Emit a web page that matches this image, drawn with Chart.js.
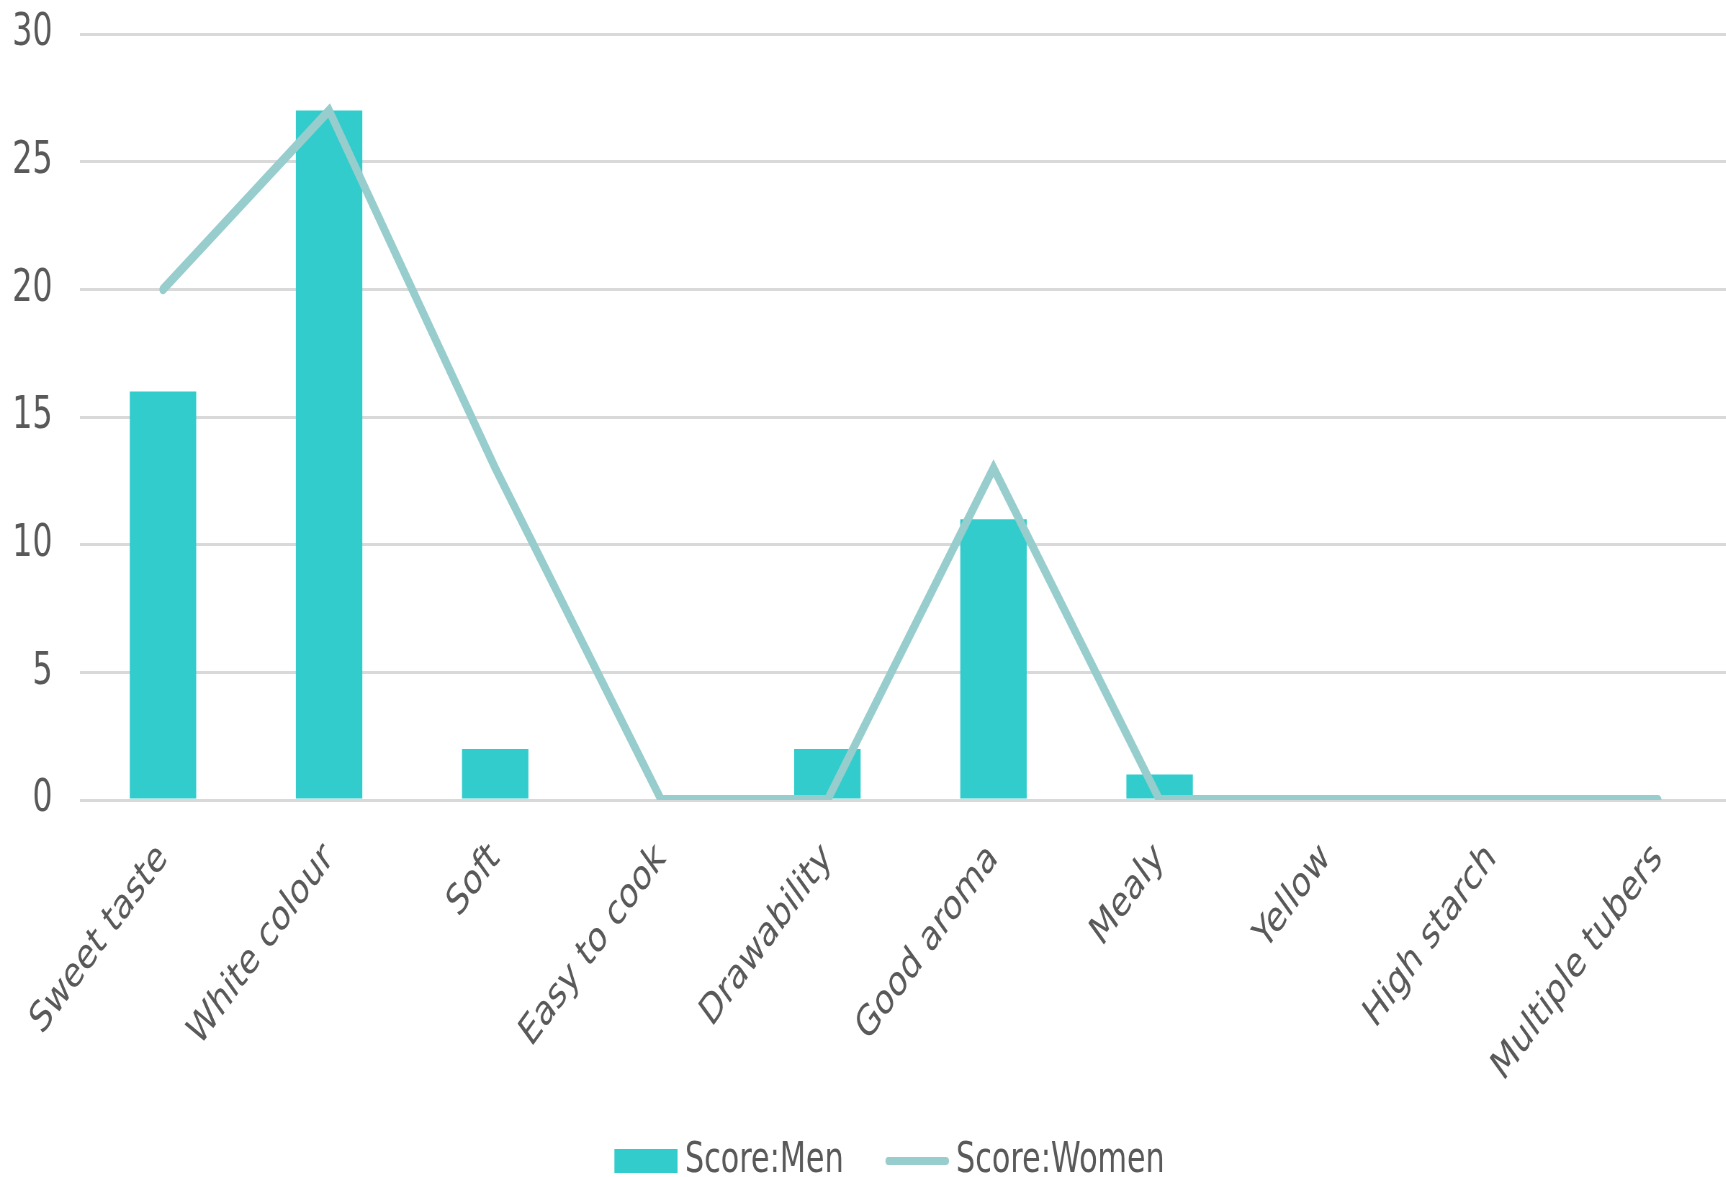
<!DOCTYPE html>
<html>
<head>
<meta charset="utf-8">
<script src="https://cdn.jsdelivr.net/npm/chart.js@4/dist/chart.umd.min.js"></script>
<style>
  html, body { margin: 0; padding: 0; overflow: hidden; background: #ffffff; }
  #wrap {
    transform: scaleX(0.72);
    transform-origin: 0 0;
  }
  canvas { display: block; }
</style>
</head>
<body>
<div id="wrap"><canvas id="chart"></canvas></div>
<script>
// Preferred traits of sweet potato varieties, scored by men and women
const categories = ['Sweet taste', 'White colour', 'Soft', 'Easy to cook', 'Drawability',
                    'Good aroma', 'Mealy', 'Yellow', 'High starch', 'Multiple tubers'];
const scoreMen   = [16, 27, 2, 0, 2, 11, 1, 0, 0, 0];
const scoreWomen = [20, 27, 13, 0, 0, 13, 0, 0, 0, 0];
const yTicks = [0, 5, 10, 15, 20, 25, 30];

const BAR_COLOR = '#33CCCC';
const LINE_COLOR = '#97CDCC';
const TEXT_COLOR = '#595959';
const GRID_COLOR = '#D9D9D9';
const FONT = 'DejaVu Sans';

// drawing frame (the page squeezes it horizontally by 0.72)
const CANVAS_W = 2418;
const PLOT_TOP = 34, PLOT_BOTTOM = 800;
const Y_AXIS_W = 111;
const LEGEND_FONT = 42, LEGEND_GAP = 47, LEGEND_SHIFT = 21;
const LEGEND_H = LEGEND_FONT + LEGEND_GAP + 10;
const LEGEND_MID = 1161;
const CANVAS_H = LEGEND_MID - LEGEND_FONT / 2 - LEGEND_GAP + LEGEND_H;

// legend swatches: a filled block for the bars, a rounded stroke for the line
const ICON_SLOT = 88, ICON_W = 110, ICON_H = 30;
function makeIcon(kind) {
  const c = document.createElement('canvas');
  c.width = ICON_W;
  c.height = ICON_H;
  const g = c.getContext('2d');
  const x0 = ICON_W - ICON_SLOT;
  if (kind === 'bar') {
    g.fillStyle = BAR_COLOR;
    g.fillRect(x0, ICON_H / 2 - 12, ICON_SLOT, 24);
  } else {
    g.strokeStyle = LINE_COLOR;
    g.lineWidth = 8;
    g.lineCap = 'round';
    g.beginPath();
    g.moveTo(x0 + 4, ICON_H / 2);
    g.lineTo(ICON_W - 4, ICON_H / 2);
    g.stroke();
  }
  return c;
}
const icons = [makeIcon('bar'), makeIcon('line')];

// nudge the legend block to the right after layout
const legendShift = {
  id: 'legendShift',
  afterLayout(chart) {
    if (chart.legend) {
      chart.legend.left += LEGEND_SHIFT;
      chart.legend.right += LEGEND_SHIFT;
    }
  }
};

const canvas = document.getElementById('chart');
canvas.width = CANVAS_W;
canvas.height = CANVAS_H;
canvas.style.width = CANVAS_W + 'px';
canvas.style.height = CANVAS_H + 'px';

new Chart(canvas, {
  data: {
    labels: categories,
    datasets: [
      {
        type: 'bar',
        label: 'Score:Men',
        data: scoreMen,
        backgroundColor: BAR_COLOR,
        borderWidth: 0,
        barPercentage: 0.4,
        categoryPercentage: 1.0,
        order: 1
      },
      {
        type: 'line',
        label: 'Score:Women',
        data: scoreWomen,
        borderColor: LINE_COLOR,
        backgroundColor: LINE_COLOR,
        borderWidth: 10,
        borderCapStyle: 'round',
        borderJoinStyle: 'miter',
        tension: 0,
        pointRadius: 0,
        pointHoverRadius: 0,
        fill: false,
        order: 0
      }
    ]
  },
  plugins: [legendShift],
  options: {
    responsive: false,
    animation: false,
    devicePixelRatio: 1,
    layout: { padding: { left: 0, right: 0, top: PLOT_TOP, bottom: 0 } },
    plugins: {
      tooltip: { enabled: false },
      legend: {
        position: 'bottom',
        labels: {
          font: { family: FONT, size: LEGEND_FONT, lineHeight: 1 },
          color: TEXT_COLOR,
          padding: LEGEND_GAP,
          usePointStyle: true,
          pointStyleWidth: ICON_SLOT,
          sort: (a, b) => a.datasetIndex - b.datasetIndex,
          generateLabels(chart) {
            const items = Chart.defaults.plugins.legend.labels.generateLabels(chart);
            items.forEach(item => {
              item.pointStyle = icons[item.datasetIndex];
              item.lineWidth = 0;
            });
            return items;
          }
        }
      }
    },
    scales: {
      x: {
        offset: true,
        grid: { display: false, drawTicks: false },
        border: { display: false },
        ticks: {
          autoSkip: false,
          minRotation: 45,
          maxRotation: 45,
          padding: 34,
          color: TEXT_COLOR,
          font: { family: FONT, size: 42 }
        },
        afterFit(scale) { scale.height = CANVAS_H - LEGEND_H - PLOT_BOTTOM; }
      },
      y: {
        min: 0,
        max: 30,
        afterBuildTicks(scale) { scale.ticks = yTicks.map(v => ({ value: v })); },
        grid: {
          color: GRID_COLOR,
          lineWidth: 3,
          drawTicks: true,
          tickLength: 38,
          tickColor: 'rgba(0,0,0,0)'
        },
        border: { display: false },
        ticks: {
          padding: 0,
          color: TEXT_COLOR,
          font: { family: FONT, size: 44 }
        },
        afterFit(scale) { scale.width = Y_AXIS_W; }
      }
    }
  }
});
</script>
</body>
</html>
